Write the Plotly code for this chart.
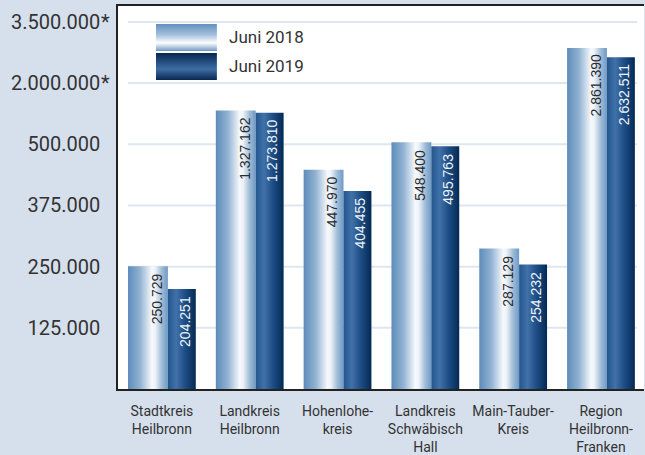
import plotly.graph_objects as go

categories = ["Stadtkreis<br>Heilbronn", "Landkreis<br>Heilbronn", "Hohenlohe-<br>kreis",
              "Landkreis<br>Schwäbisch<br>Hall", "Main-Tauber-<br>Kreis", "Region<br>Heilbronn-<br>Franken"]
series_names = ["Juni 2018", "Juni 2019"]
values_2018 = [250729, 1327162, 447970, 548400, 287129, 2861390]
values_2019 = [204251, 1273810, 404455, 495763, 254232, 2632511]
tick_values = [125000, 250000, 375000, 500000, 2000000, 3500000]
tick_labels = ["125.000", "250.000", "375.000", "500.000", "2.000.000", "3.500.000"]
tick_marks = ["", "", "", "", "*", "*"]

BREAK = 500000
UNIT_LOW = 125000
UNIT_HIGH = 1500000


def scale(v):
    """Broken axis: linear to 500.000, compressed above."""
    if v <= BREAK:
        return v / UNIT_LOW
    return BREAK / UNIT_LOW + (v - BREAK) / UNIT_HIGH


def fmt(v):
    return f"{v:,}".replace(",", ".")


BG = "#d6e0ec"
FONT = "Roboto, 'Liberation Sans', Arial, sans-serif"
TXT = "#333333"
light_scale = [[0, "#5d8cb9"], [0.3, "#91b2d2"], [0.6, "#f6f9fc"], [0.68, "#eef3f8"],
               [0.85, "#9ebbd7"], [1, "#6f9ac4"]]
dark_scale = [[0, "#23568f"], [0.3, "#4171a7"], [0.6, "#1f4f87"], [1, "#032a55"]]
light_v_scale = [[0, "#6e9ac4"], [0.3, "#ffffff"], [0.6, "#a2bfdb"], [1, "#6390bd"]]
dark_v_scale = [[0, "#072851"], [0.4, "#3e6da3"], [1, "#06264f"]]

# bar geometry in category units (group spacing = 1)
L0, L1 = -0.386, 0.068
D0, D1 = 0.068, 0.386
TXT_L, TXT_D = -0.062, 0.256

fig = go.Figure()

for i, (a, b) in enumerate(zip(values_2018, values_2019)):
    for v, x0, x1, cs, name in ((a, L0, L1, light_scale, series_names[0]),
                                (b, D0, D1, dark_scale, series_names[1])):
        h = scale(v)
        fig.add_trace(go.Scatter(
            x=[i + x0, i + x0, i + x1, i + x1, i + x0],
            y=[0, h, h, 0, 0],
            mode="lines", fill="toself", line=dict(width=0),
            fillgradient=dict(type="horizontal", colorscale=cs),
            name=name, hoverinfo="skip", showlegend=False))

for i, (a, b) in enumerate(zip(values_2018, values_2019)):
    fig.add_annotation(x=i + TXT_L, y=scale(a), text=fmt(a), textangle=-90,
                       showarrow=False, xanchor="center", yanchor="top", yshift=-5,
                       font=dict(family="'Liberation Sans', Arial, sans-serif", size=14, color="#2b2b2b"))
    fig.add_annotation(x=i + TXT_D, y=scale(b), text=fmt(b), textangle=-90,
                       showarrow=False, xanchor="center", yanchor="top", yshift=-5,
                       font=dict(family="'Liberation Sans', Arial, sans-serif", size=14, color="#eef3f8"))

# custom legend swatches (vertical gradients) on an overlay axis
for name, y0, y1, cs in ((series_names[0], 0.518, 1.0, light_v_scale),
                         (series_names[1], 0.0, 0.482, dark_v_scale)):
    fig.add_trace(go.Scatter(
        x=[0, 0, 1, 1, 0], y=[y0, y1, y1, y0, y0], xaxis="x2", yaxis="y2",
        mode="lines", fill="toself", line=dict(width=0),
        fillgradient=dict(type="vertical", colorscale=cs),
        hoverinfo="skip", showlegend=False))
fig.add_annotation(xref="paper", yref="paper", x=0.207, y=0.919, text=series_names[0],
                   showarrow=False, xanchor="left", yanchor="middle",
                   font=dict(family=FONT, size=17, color=TXT))
fig.add_annotation(xref="paper", yref="paper", x=0.207, y=0.843, text=series_names[1],
                   showarrow=False, xanchor="left", yanchor="middle",
                   font=dict(family=FONT, size=17, color=TXT))

# gridlines (inset from the plot edges)
for tv in tick_values:
    fig.add_shape(type="line", xref="paper", yref="y", x0=0.019, x1=0.987,
                  y0=scale(tv), y1=scale(tv), line=dict(color="#dfe6ef", width=2),
                  layer="below")

for tv, m in zip(tick_values, tick_marks):
    if m:
        fig.add_annotation(xref="paper", yref="y", x=-0.036, y=scale(tv), text=m,
                           showarrow=False, xanchor="left", yanchor="middle",
                           font=dict(family=FONT, size=20, color=TXT))

fig.update_layout(
    width=645, height=455,
    margin=dict(l=118, r=1, t=6, b=66),
    paper_bgcolor=BG, plot_bgcolor="white",
    showlegend=False,
    xaxis=dict(range=[-0.5, 5.49], tickvals=list(range(len(categories))), ticktext=categories,
               showline=True, linecolor="#222222", linewidth=1.5, mirror=True,
               showgrid=False, zeroline=False, ticks="", ticklabelstandoff=8,
               tickfont=dict(family=FONT, size=14, color=TXT), fixedrange=True),
    yaxis=dict(range=[0, 6.26], tickvals=[scale(t) for t in tick_values], ticktext=tick_labels,
               showline=True, linecolor="#222222", linewidth=1.5,
               showgrid=False, zeroline=False, ticks="", ticklabelstandoff=12,
               tickfont=dict(family=FONT, size=20, color=TXT), fixedrange=True),
    xaxis2=dict(domain=[0.0722, 0.188], anchor="y2", range=[0, 1], visible=False, fixedrange=True),
    yaxis2=dict(domain=[0.807, 0.953], anchor="x2", range=[0, 1], visible=False, fixedrange=True),
)

fig.write_html("out.html", config={"displayModeBar": False},
               post_script="document.body.style.margin='0px';document.body.style.padding='0px';")
